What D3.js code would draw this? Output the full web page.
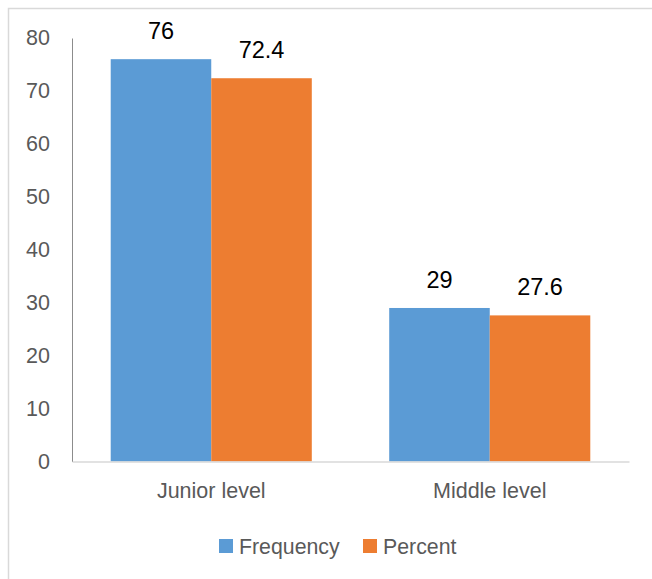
<!DOCTYPE html>
<html>
<head>
<meta charset="utf-8">
<script src="https://cdn.jsdelivr.net/npm/d3@7"></script>
<style>
  html, body { margin: 0; padding: 0; background: #fff; }
  svg { display: block; font-family: "Liberation Sans", Arial, sans-serif; }
</style>
</head>
<body>
<svg id="chart" width="652" height="579"></svg>
<script>
// Chart data
const categories = ["Junior level", "Middle level"];
const seriesNames = ["Frequency", "Percent"];
const frequency = [76, 29];
const percent = [72.4, 27.6];
const yTicks = [0, 10, 20, 30, 40, 50, 60, 70, 80];

const colors = { Frequency: "#5B9BD5", Percent: "#ED7D31" };
const rows = categories.map((c, i) => ({ category: c, Frequency: frequency[i], Percent: percent[i] }));

const svg = d3.select("#chart");

// Outer chart frame
svg.append("rect")
  .attr("x", 8.5).attr("y", 8.5)
  .attr("width", 700).attr("height", 700)
  .attr("fill", "none").attr("stroke", "#D9D9D9").attr("stroke-width", 1.5);

const plot = { left: 72, right: 629, top: 38, bottom: 461.5 };

const x0 = d3.scaleBand()
  .domain(categories)
  .range([plot.left, plot.right])
  .paddingInner(0.278)
  .paddingOuter(0.139);

const x1 = d3.scaleBand()
  .domain(seriesNames)
  .range([0, x0.bandwidth()])
  .padding(0);

const y = d3.scaleLinear()
  .domain([0, 80])
  .range([plot.bottom, plot.top]);

// Bars
const groups = svg.append("g").selectAll("g")
  .data(rows)
  .join("g")
  .attr("transform", d => `translate(${x0(d.category)},0)`);

groups.selectAll("rect")
  .data(d => seriesNames.map(k => ({ key: k, value: d[k] })))
  .join("rect")
  .attr("x", d => x1(d.key))
  .attr("y", d => y(d.value))
  .attr("width", x1.bandwidth())
  .attr("height", d => y(0) - y(d.value))
  .attr("fill", d => colors[d.key]);

// Value labels
groups.selectAll("text")
  .data(d => seriesNames.map(k => ({ key: k, value: d[k] })))
  .join("text")
  .attr("x", d => x1(d.key) + x1.bandwidth() / 2)
  .attr("y", d => y(d.value) - 20)
  .attr("text-anchor", "middle")
  .attr("font-size", 23.5)
  .attr("fill", "#000")
  .text(d => d.value);

// Y axis
const yAxis = svg.append("g")
  .attr("transform", `translate(${plot.left},0)`)
  .call(d3.axisLeft(y).tickValues(yTicks).tickSize(0).tickPadding(22).tickFormat(d3.format("d")));
yAxis.select(".domain").attr("stroke", "#8C8C8C").attr("stroke-width", 1);
yAxis.selectAll("text").attr("font-size", 21.5).attr("fill", "#595959")
  .attr("font-family", "'Liberation Sans', Arial, sans-serif");

// X axis
const xAxis = svg.append("g")
  .attr("transform", `translate(0,${plot.bottom})`)
  .call(d3.axisBottom(x0).tickSize(0).tickPadding(21));
xAxis.select(".domain").attr("stroke", "#D9D9D9").attr("stroke-width", 1.5);
xAxis.selectAll("text").attr("font-size", 21.5).attr("fill", "#595959")
  .attr("font-family", "'Liberation Sans', Arial, sans-serif");

// Legend
const legendItems = [
  { name: "Frequency", x: 219 },
  { name: "Percent", x: 363 }
];
const legend = svg.append("g").selectAll("g")
  .data(legendItems)
  .join("g")
  .attr("transform", d => `translate(${d.x},539)`);
legend.append("rect")
  .attr("width", 14).attr("height", 14)
  .attr("fill", d => colors[d.name]);
legend.append("text")
  .attr("x", 20).attr("y", 14.5)
  .attr("font-size", 21.3).attr("fill", "#595959")
  .text(d => d.name);
</script>
</body>
</html>
